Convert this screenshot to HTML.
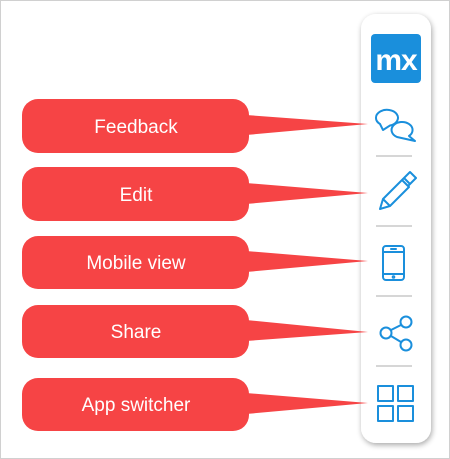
<!DOCTYPE html>
<html><head><style>
html,body{margin:0;padding:0;background:#fff;}
svg{display:block;}
text{font-family:"Liberation Sans",sans-serif;font-size:19px;fill:#fff;}
</style></head><body>
<svg width="450" height="459" viewBox="0 0 450 459" xmlns="http://www.w3.org/2000/svg">
<defs>
<filter id="sh" x="-30%" y="-10%" width="160%" height="120%">
<feGaussianBlur in="SourceAlpha" stdDeviation="3"/>
<feOffset dx="1" dy="2"/>
<feComponentTransfer><feFuncA type="linear" slope="0.35"/></feComponentTransfer>
<feMerge><feMergeNode/><feMergeNode in="SourceGraphic"/></feMerge>
</filter>
</defs>
<rect x="0.5" y="0.5" width="449" height="458" fill="#fff" stroke="#d0d0d0"/>
<rect x="361" y="14" width="70" height="429" rx="15" fill="#fff" filter="url(#sh)"/>
<rect x="371" y="34" width="50" height="49" rx="4" fill="#1a8fdc"/>
<text x="396" y="70" text-anchor="middle" style="font-size:30px;font-weight:bold;letter-spacing:-1px">mx</text>
<g stroke="#d6d6d6" stroke-width="2">
<line x1="376" y1="156" x2="412" y2="156"/>
<line x1="376" y1="226" x2="412" y2="226"/>
<line x1="376" y1="296" x2="412" y2="296"/>
<line x1="376" y1="366" x2="412" y2="366"/>
</g>
<g fill="none" stroke="#1a8fdc" stroke-width="2" stroke-linejoin="round" stroke-linecap="round">
<!-- feedback -->
<path d="M380 124 A11 8 0 1 1 390 125.5 L383 130 Z" fill="#fff"/>
<path d="M397 137 A10.5 8 0 1 1 409 136 L415 141 Z" fill="#fff"/>
<!-- pencil -->
<path d="M402 180 l8 -8 l6 6 l-8 8 z M402 180 l-19 19 l-3 10 l10 -3 l19 -19 M383 199 l6 6 M404 178 l6 6"/>
<!-- phone -->
<rect x="383" y="246" width="21" height="34" rx="3"/>
<line x1="383" y1="252" x2="404" y2="252"/>
<line x1="383" y1="274" x2="404" y2="274"/>
<line x1="391" y1="249" x2="396" y2="249"/>
<circle cx="393.5" cy="277" r="0.8"/>
<!-- share -->
<circle cx="386" cy="333" r="5.5"/>
<circle cx="406" cy="322" r="5.5"/>
<circle cx="406" cy="345" r="5.5"/>
<line x1="391" y1="330" x2="401" y2="325"/>
<line x1="391" y1="336" x2="401" y2="342"/>
<!-- grid -->
<rect x="378" y="386" width="15" height="15"/>
<rect x="398" y="386" width="15" height="15"/>
<rect x="378" y="406" width="15" height="15"/>
<rect x="398" y="406" width="15" height="15"/>
</g>
<g fill="#f64445">
<rect x="22" y="99" width="227" height="54" rx="16"/><path d="M246 115 L368 124 L246 135 Z"/>
<rect x="22" y="167" width="227" height="54" rx="16"/><path d="M246 183 L368 193 L246 204 Z"/>
<rect x="22" y="236" width="227" height="53" rx="16"/><path d="M246 251 L368 261 L246 272 Z"/>
<rect x="22" y="305" width="227" height="53" rx="16"/><path d="M246 320 L368 332 L246 341 Z"/>
<rect x="22" y="378" width="227" height="53" rx="16"/><path d="M246 393 L368 403 L246 414 Z"/>
</g>
<text x="136" y="133" text-anchor="middle">Feedback</text>
<text x="136" y="201" text-anchor="middle">Edit</text>
<text x="136" y="269" text-anchor="middle">Mobile view</text>
<text x="136" y="338" text-anchor="middle">Share</text>
<text x="136" y="411" text-anchor="middle">App switcher</text>
</svg>
</body></html>
